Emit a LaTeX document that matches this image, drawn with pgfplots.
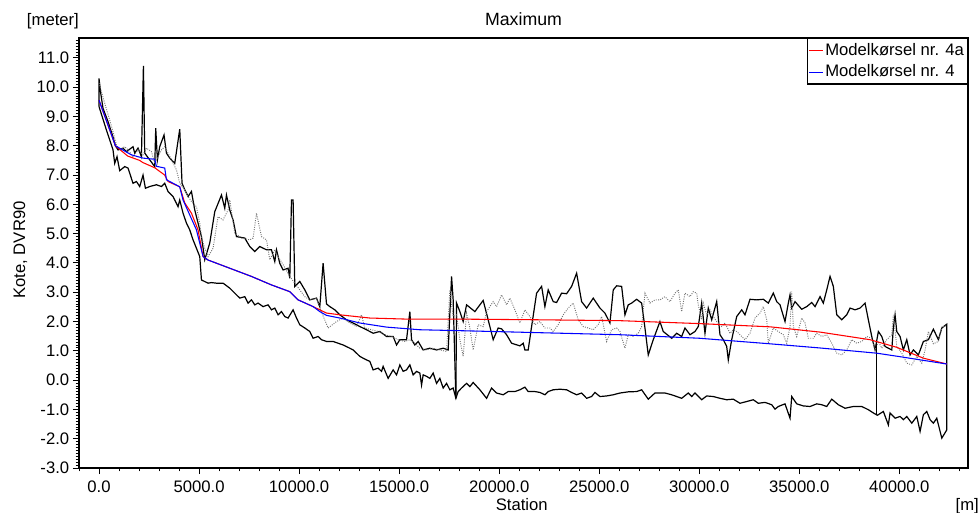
\documentclass[border=0pt]{standalone}
\usepackage{fontspec}
\setmainfont{Liberation Sans}
\usepackage{pgfplots}
\pgfplotsset{compat=1.18}

\begin{document}
\fontsize{12.5}{14.5}\selectfont
\begin{tikzpicture}
% image frame: 979 x 512 px at 0.75pt per px, axis box at (0,0)
\path[use as bounding box] (-59.25pt,-33pt) rectangle (675pt,351pt);
\begin{axis}[
    scale only axis,
    width=666.75pt, height=322.5pt,
    at={(0,0)}, anchor=south west,
    xmin=-1000, xmax=43430,
    ymin=-3, ymax=11.68,
    xtick={0,5000,...,40000},
    minor xtick={-1000,0,...,43000},
    ytick={-3,-2,...,11},
    minor ytick={-3,-2.9,...,11.65},
    tick align=outside,
    xtick pos=bottom, ytick pos=left,
    major tick length=4.5pt, minor tick length=2.6pt,
    every tick/.style={black, line width=0.7pt},
    axis line style={line width=1pt},
    scaled x ticks=false, scaled y ticks=false,
    /pgf/number format/assume math mode=true,
    xticklabel style={yshift=-0.8pt, /pgf/number format/fixed, /pgf/number format/fixed zerofill,
        /pgf/number format/precision=1, /pgf/number format/1000 sep={}},
    yticklabel style={xshift=1.5pt, /pgf/number format/fixed, /pgf/number format/fixed zerofill,
        /pgf/number format/precision=1},
    every axis title shift=0pt,
    title={Maximum},
    title style={at={(axis description cs:0.5,1.028)}, anchor=base, inner sep=0pt,
        font=\fontsize{13.3}{15}\selectfont},
    xlabel={Station},
    xlabel style={at={(axis description cs:0.498,-0.0977)}, anchor=base, inner sep=0pt},
    ylabel={Kote, DVR90},
    ylabel style={at={(axis description cs:-0.0607,0.507)}, anchor=base, inner sep=0pt},
    legend style={at={(1,1)}, anchor=north east, draw=black, line width=1.1pt,
        fill=white, inner xsep=1pt, inner ysep=1pt, row sep=0pt,
        nodes={inner xsep=1.5pt, inner ysep=2pt, text height=9.5pt, text depth=2.5pt, anchor=west}},
    legend cell align=left,
    legend image code/.code={\draw[#1, line width=0.8pt] (0pt,0pt) -- (10pt,0pt);},
    clip mode=individual,
]

% bed level
\addplot[forget plot, black, line width=0.9pt] coordinates {
(0,9.34)(370,8.54)(700,7.86)(785,7.4)(900,7.63)(1035,7.15)(1285,7.29)(1450,7.24)(1700,6.72)(1870,6.78)
(2035,6.61)(2200,7.0)(2320,6.55)(2535,6.61)(2870,6.67)(3120,6.61)(3285,6.72)(3450,6.44)(3700,6.27)(3950,5.92)
(4035,6.15)(4200,5.7)(4370,5.36)(4535,5.13)(4700,4.79)(4870,4.5)(5035,4.22)(5120,3.42)(5450,3.31)(5620,3.33)
(5870,3.31)(6200,3.31)(6535,3.14)(6785,2.97)(7035,2.8)(7285,2.85)(7450,2.63)(7620,2.74)(7785,2.57)(7950,2.63)
(8200,2.51)(8450,2.57)(8620,2.4)(8785,2.46)(8950,2.23)(9120,2.34)(9285,2.17)(9450,2.12)(9700,2.4)(9870,2.12)
(10035,1.89)(10285,1.78)(10535,1.66)(10700,1.43)(10950,1.49)(11120,1.38)(11370,1.32)(11700,1.32)(11950,1.26)
(12200,1.2)(12535,1.09)(12700,1.03)(12870,0.92)(13035,0.81)(13200,0.75)(13370,0.69)(13535,0.64)(13700,0.35)
(13950,0.41)(14120,0.3)(14200,0.47)(14450,0.06)(14700,0.35)(14870,0.18)(15035,0.52)(15200,0.3)(15370,0.35)
(15535,0.52)(15700,0.18)(15870,0.3)(16035,0.24)(16120,-0.17)(16200,0.18)(16370,0.13)(16535,0.06)(16700,0.24)
(16870,-0.11)(17035,0.06)(17200,-0.27)(17370,-0.11)(17535,-0.33)(17700,-0.27)(17835,-0.62)(17950,-0.39)
(18120,-0.27)(18370,-0.11)(18535,-0.22)(18700,-0.08)(19035,-0.33)(19370,-0.62)(19620,-0.27)(19870,-0.44)
(20200,-0.5)(20450,-0.39)(20785,-0.39)(21035,-0.33)(21285,-0.24)(21450,-0.39)(21785,-0.39)(22035,-0.42)
(22285,-0.5)(22450,-0.39)(22700,-0.33)(23035,-0.31)(23370,-0.33)(23620,-0.42)(23870,-0.5)(24120,-0.44)
(24370,-0.62)(24620,-0.56)(24785,-0.42)(25035,-0.56)(25370,-0.54)(25700,-0.5)(26035,-0.44)(26450,-0.4)
(26870,-0.39)(27120,-0.33)(27450,-0.65)(27785,-0.44)(28285,-0.44)(28620,-0.5)(28870,-0.56)(29120,-0.62)
(29450,-0.44)(29620,-0.56)(29785,-0.44)(30120,-0.67)(30370,-0.54)(30700,-0.56)(31035,-0.62)(31370,-0.67)
(31700,-0.65)(32035,-0.79)(32370,-0.73)(32700,-0.67)(32950,-0.79)(33285,-0.76)(33620,-0.84)(33785,-0.99)
(33950,-0.9)(34285,-0.81)(34535,-1.3)(34620,-0.56)(34870,-0.81)(35200,-0.88)(35535,-0.9)(35870,-0.81)
(36120,-0.84)(36370,-0.9)(36620,-0.65)(36950,-0.84)(37285,-0.96)(37700,-0.9)(38120,-0.9)(38450,-1.01)
(38700,-1.12)(38900,-1.2)(39200,-1.07)(39450,-1.53)(39535,-1.12)(39785,-1.3)(40035,-1.24)(40200,-1.35)
(40370,-1.24)(40620,-1.47)(40870,-1.24)(41035,-1.75)(41200,-1.18)(41370,-1.07)(41535,-1.35)(41700,-1.47)
(41870,-1.3)(42120,-1.98)(42370,-1.7)
};

% bank, upstream part
\addplot[forget plot, black, line width=0.9pt] coordinates {
(0,9.34)(0,10.3)(85,9.8)(200,9.28)(450,8.83)(700,8.3)(820,8.0)(950,7.86)(1200,7.92)(1370,7.8)(1700,7.97)
(1785,7.75)(1950,7.92)(2120,7.63)(2220,10.73)(2285,7.75)(2535,7.52)(2785,7.29)(2835,8.6)(2920,7.52)
(3035,7.97)(3250,8.37)(3370,7.75)(3535,7.58)(3785,7.4)(4035,8.57)(4150,6.72)(4285,6.5)(4450,6.27)
(4620,6.44)(4785,5.81)(4950,5.36)(5120,4.9)(5285,4.11)(5535,4.68)(5785,5.75)(6120,6.32)(6285,5.87)
(6370,6.32)(6535,5.81)(6700,5.47)(6870,4.9)(7285,4.85)(7535,4.56)(7785,4.39)(8035,4.56)(8370,4.45)
(8620,4.45)(8785,4.05)(8870,4.45)(9035,3.99)(9200,3.76)(9450,3.82)(9535,3.48)(9620,6.15)(9700,6.15)
(9785,3.2)(10035,3.37)(10285,3.08)(10535,2.74)(10870,2.8)(11035,2.51)(11200,3.99)(11370,2.6)(11535,2.51)
(11785,2.4)(12035,2.23)(12370,2.06)(12700,1.95)(13035,1.83)(13370,1.72)(13700,1.6)(14035,1.66)(14370,1.49)
(14700,1.49)(14870,1.2)(15035,1.38)(15370,1.38)(15535,2.34)(15620,1.38)(15785,1.2)(15950,1.32)(16200,1.03)
(16535,1.09)(16870,1.03)(17200,1.09)(17450,1.03)(17620,3.54)(17700,2.74)(17835,-0.62)
};

% bank, downstream part
\addplot[forget plot, black, line width=0.9pt] coordinates {
(17835,-0.62)(17870,2.63)(18035,2.34)(18200,2.0)(18370,2.57)(18785,2.34)(19200,2.72)(19450,2.06)(19700,1.38)
(19950,1.78)(20120,1.75)(20370,1.55)(20620,1.26)(21035,1.17)(21200,1.26)(21285,1.03)(21450,1.03)(21620,1.83)
(21870,2.97)(22120,3.2)(22285,2.51)(22450,3.08)(22700,2.68)(22870,2.65)(23120,2.97)(23370,2.95)(23620,3.2)
(23870,3.65)(24120,2.68)(24370,2.46)(24700,2.8)(25035,2.46)(25285,2.29)(25535,1.95)(25700,3.08)(25870,3.22)
(26120,3.2)(26285,2.23)(26450,2.57)(26620,2.63)(26870,2.76)(27120,2.63)(27285,1.78)(27450,0.86)(27700,1.38)
(28035,2.0)(28200,1.66)(28620,1.43)(28870,1.6)(29120,1.49)(29285,1.78)(29535,1.55)(29785,1.66)(29950,1.83)
(30120,2.63)(30285,1.6)(30450,2.46)(30620,2.06)(30870,2.68)(31035,1.55)(31200,1.38)(31370,1.15)(31450,0.69)
(31620,1.38)(31870,2.17)(32120,2.4)(32285,2.23)(32535,2.76)(32870,2.74)(33200,2.76)(33450,2.63)(33700,2.97)
(33870,2.68)(34035,2.57)(34285,2.0)(34450,2.63)(34535,2.91)(34620,2.46)(34785,2.68)(35120,2.42)(35370,2.51)
(35620,2.65)(35785,2.51)(36035,2.85)(36200,2.63)(36370,3.08)(36535,3.54)(36700,3.2)(36870,2.23)(37120,2.06)
(37370,2.23)(37535,2.46)(37785,2.4)(38035,2.46)(38285,2.63)(38450,2.06)(38620,1.49)(38785,1.03)(38950,1.66)
(39120,1.49)(39285,1.15)(39450,1.09)(39620,1.03)(39700,1.78)(39785,2.23)(39870,1.66)(40035,1.49)(40200,1.03)
(40370,1.38)(40535,0.86)(40700,1.03)(40950,0.86)(41200,1.32)(41450,1.38)(41700,1.74)(41950,1.38)(42120,1.78)
(42370,1.91)(42370,-1.7)
};

% other bank
\addplot[forget plot, black!55, densely dotted, line width=0.7pt] coordinates {
(0,10.14)(285,9.45)(535,8.88)(700,8.48)(870,8.03)(1035,7.86)(1285,7.97)(1450,7.86)(1700,7.63)(1950,7.86)
(2200,7.69)(2370,7.92)(2620,7.8)(2785,7.4)(2950,7.63)(3120,7.86)(3285,7.97)(3450,7.75)(3620,7.52)(3870,7.18)
(4035,6.72)(4285,6.5)(4450,6.27)(4620,6.1)(4870,5.92)(5035,5.36)(5120,4.9)(5285,4.5)(5450,4.22)(5700,4.5)
(5950,5.58)(6200,5.47)(6450,5.81)(6535,6.15)(6785,5.02)(7120,4.85)(7535,4.79)(7700,4.85)(7870,5.7)(8120,4.9)
(8370,4.79)(8535,4.11)(8785,4.45)(8950,4.22)(9200,3.94)(9535,3.54)(9785,3.31)(10035,3.08)(10285,2.85)
(10535,2.74)(10870,2.8)(11035,2.46)(11450,1.78)(11870,2.0)(12200,2.12)(12535,1.95)(12870,1.83)(13120,2.23)
(13285,1.78)(13620,1.72)(13950,1.66)(14285,1.55)(14620,1.49)(14950,1.38)(15285,1.32)(15535,1.38)(15785,1.26)
(16035,1.09)(16370,1.03)(16700,1.09)(17035,1.03)(17370,0.98)(17535,3.08)(17700,2.17)(17870,2.23)(18035,1.38)
(18200,0.81)(18370,2.29)(18535,1.78)(18700,1.03)(18950,1.89)(19200,1.83)(19370,2.34)(19535,2.51)(19700,2.68)
(19870,2.51)(20120,2.91)(20370,2.57)(20535,2.8)(20785,2.4)(21035,1.95)(21285,2.4)(21535,2.17)(21785,1.89)
(22035,2.0)(22285,1.78)(22535,1.78)(22700,1.66)(22950,1.89)(23200,2.23)(23450,2.46)(23700,2.63)(23950,2.06)
(24200,1.83)(24450,1.78)(24700,1.72)(24950,1.89)(25120,2.17)(25370,1.32)(25620,1.72)(25870,1.78)(26035,1.66)
(26285,1.09)(26450,1.55)(26700,1.49)(26950,1.6)(27120,1.83)(27285,2.97)(27535,2.63)(27785,2.74)(28035,2.74)
(28285,2.85)(28535,2.68)(28785,2.97)(28950,3.08)(29120,2.34)(29285,2.97)(29535,2.85)(29700,3.02)(29870,2.97)
(29950,2.57)(30120,2.06)(30200,2.63)(30370,2.23)(30535,2.4)(30700,2.17)(30870,2.0)(31120,1.83)(31285,1.95)
(31535,1.6)(31700,1.72)(31870,1.66)(32120,1.49)(32285,1.38)(32535,1.6)(32785,2.12)(33035,2.29)(33200,2.51)
(33370,2.06)(33450,1.26)(33700,1.78)(33950,1.66)(34200,1.55)(34370,1.26)(34535,1.83)(34620,3.02)(34700,1.83)
(34870,1.49)(35120,2.12)(35285,1.95)(35450,1.43)(35700,1.43)(35870,1.6)(36120,1.49)(36370,1.55)(36620,1.26)
(36870,0.92)(37120,0.86)(37370,1.03)(37620,1.38)(37870,1.26)(38120,1.32)(38370,1.49)(38620,1.43)(38785,1.03)
(38950,1.32)(39120,1.09)(39370,1.38)(39620,1.55)(39700,2.23)(39870,1.15)(40120,0.92)(40370,0.58)(40620,0.52)
(40870,0.81)(41120,0.58)(41285,1.03)(41450,1.66)(41700,1.24)(41950,1.32)(42120,1.81)(42335,1.85)
};

% branch junction
\addplot[forget plot, black, line width=0.9pt] coordinates {(38870,1.38)(38870,-1.2)};

\addplot[color=red, draw=red, line width=0.8pt] coordinates {
(0,9.56)(820,8.0)(1435,7.65)(2035,7.5)(2185,7.43)(2785,7.25)(3285,7.0)(3450,6.78)(4035,6.6)(4285,6.05)
(4620,5.7)(4950,5.13)(5200,4.22)(5450,4.1)(6535,3.82)(7620,3.54)(8620,3.25)(9535,3.02)(9950,2.74)(10700,2.51)
(11035,2.4)(11370,2.29)(12035,2.23)(13535,2.12)(15535,2.08)(18535,2.08)(22000,2.06)(26035,2.03)(30000,1.93)
(33535,1.82)(36035,1.64)(38535,1.38)(39870,1.12)(41200,0.75)(42370,0.55)
};
\addlegendentry{Modelkørsel nr. 4a}

\addplot[color=blue, draw=blue, line width=0.8pt] coordinates {
(0,9.56)(820,8.0)(1620,7.69)(2200,7.58)(2785,7.54)(2870,7.3)(3285,7.24)(3370,6.84)(4035,6.6)(4200,6.15)
(4870,5.13)(5200,4.22)(5450,4.1)(6535,3.82)(7620,3.54)(8620,3.25)(9535,3.02)(9950,2.74)(10700,2.51)
(11035,2.34)(11370,2.21)(12035,2.12)(13035,1.95)(14370,1.81)(16035,1.72)(18535,1.68)(22000,1.62)(26035,1.55)
(30000,1.43)(33535,1.24)(36000,1.1)(38870,0.92)(40035,0.8)(42370,0.55)
};
\addlegendentry{Modelkørsel nr. 4}

\node[anchor=base west, inner sep=0pt] at (axis description cs:-0.0588,1.0302) {[meter]};
\node[anchor=base east, inner sep=0pt] at (axis description cs:1.0124,-0.0977) {[m]};
\end{axis}
\end{tikzpicture}
\end{document}
